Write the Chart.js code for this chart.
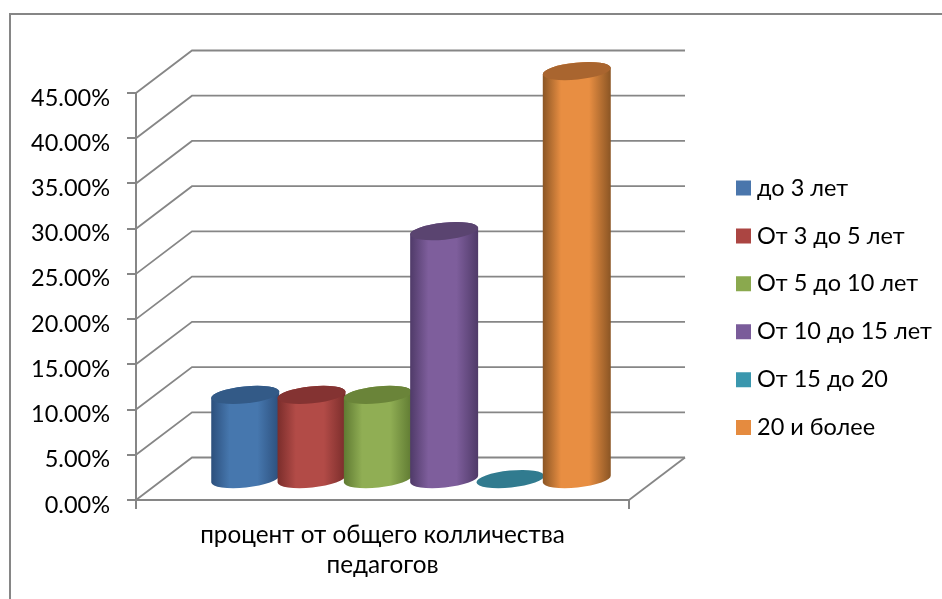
<!DOCTYPE html>
<html><head><meta charset="utf-8">
<script src="https://cdn.jsdelivr.net/npm/chart.js@4"></script>
<style>
html,body{margin:0;padding:0;width:942px;height:599px;background:#fff;overflow:hidden}
#frame{position:absolute;left:9px;top:13px;width:1000px;height:700px;border:2px solid #868686;box-sizing:border-box}
#wrap{position:absolute;left:0;top:0;width:942px;height:599px}
canvas{display:block}
</style></head><body>
<div id="frame"></div>
<div id="wrap"><canvas id="c" width="942" height="599"></canvas></div>
<script>
const categories = [["процент от общего колличества", "педагогов"]];
const seriesNames = ["до 3 лет", "От 3 до 5 лет", "От 5 до 10 лет", "От 10 до 15 лет", "От 15 до 20", "20 и более"];
const seriesValues = [9.3, 9.3, 9.3, 27.4, 0, 45.1];
const legendColors = ["#4a76ac", "#ab4542", "#8aa94e", "#7a5c9a", "#3a97ae", "#e58b3f"];
const sideDark = ["#2c4f7c", "#7a2d2b", "#5f7a32", "#4f3a68", "#24697c", "#8a5524"];
const sideMid = ["#4677ae", "#b24b47", "#90ae54", "#7e5e9c", "#3f9db5", "#e88e42"];
const capColors = ["#335a87", "#843332", "#6a8439", "#5a4470", "#317b8f", "#a9652f"];
const yTicks = [0, 45, 5];

const GRID = "#868686", DX = 56, DY = -42.5, SHIFT = 28.5, RY = 8.5, ROT = -0.1;

function drawCylinder(ctx, el, i) {
  const {x, y, base, width} = el.getProps(["x", "y", "base", "width"], true);
  const cx = x + SHIFT, rx = width / 2 + 1;
  ctx.save();
  if (base - y > 0.5) {
    const g = ctx.createLinearGradient(cx - rx, 0, cx + rx, 0);
    g.addColorStop(0, sideDark[i]);
    g.addColorStop(0.27, sideMid[i]);
    g.addColorStop(0.68, sideMid[i]);
    g.addColorStop(1, sideDark[i]);
    ctx.fillStyle = g;
    ctx.beginPath();
    ctx.ellipse(cx, base, rx, RY, ROT, 0, Math.PI);
    ctx.ellipse(cx, y, rx, RY, ROT, Math.PI, Math.PI * 2);
    ctx.closePath();
    ctx.fill();
  }
  ctx.fillStyle = capColors[i];
  ctx.beginPath();
  ctx.ellipse(cx, y, rx, RY, ROT, 0, Math.PI * 2);
  ctx.fill();
  ctx.restore();
}

const cylinders = {
  id: "cylinders",
  beforeDatasetsDraw(chart) {
    const {ctx, scales: {x, y}} = chart;
    const b = y.bottom;
    ctx.save();
    ctx.strokeStyle = GRID;
    ctx.lineWidth = 1.8;
    y.ticks.forEach(t => {
      const py = y.getPixelForValue(t.value);
      ctx.beginPath();
      ctx.moveTo(x.left, py);
      ctx.lineTo(x.left + DX, py + DY);
      ctx.lineTo(x.right + DX, py + DY);
      ctx.stroke();
    });
    ctx.beginPath();
    ctx.moveTo(x.right + DX, b + DY);
    ctx.lineTo(x.right, b);
    ctx.stroke();
    ctx.restore();
    seriesNames.forEach((_, i) => {
      chart.getDatasetMeta(i).data.forEach(el => drawCylinder(ctx, el, i));
    });
  },
  beforeDatasetDraw() {
    return false;
  },
  afterLayout(chart) {
    const lg = chart.legend;
    lg.left = 741.75 - lg.options.labels.padding;
    lg.top = 41 - lg.options.labels.padding;
  }
};

const datasets = seriesNames.map((name, i) => ({
  label: name,
  data: [seriesValues[i]],
  backgroundColor: legendColors[i],
  borderColor: legendColors[i],
  borderWidth: 11.5,
  yAxisID: "y2",
  clip: false
}));

new Chart(document.getElementById("c"), {
  type: "bar",
  data: {labels: categories, datasets},
  plugins: [cylinders],
  options: {
    responsive: false,
    animation: false,
    devicePixelRatio: 1,
    layout: {padding: {top: 93, left: 0, right: 0, bottom: 0}},
    categoryPercentage: 0.807,
    barPercentage: 1,
    plugins: {
      tooltip: {enabled: false},
      legend: {
        position: "right",
        labels: {boxWidth: 3.5, boxHeight: 3.5, padding: 24.4, color: "#000",
                 font: {family: "Lato", size: 23.5}}
      }
    },
    scales: {
      x: {
        offset: true,
        grid: {drawOnChartArea: false, color: GRID, lineWidth: 2, tickLength: 9, offset: true},
        border: {color: GRID, width: 2},
        ticks: {color: "#000", maxRotation: 0, autoSkip: false, padding: 11,
                font: {family: "Lato", size: 24.3, lineHeight: 1.24}},
        afterFit(s) { s.height = 99; }
      },
      y: {
        min: yTicks[0], max: yTicks[1],
        grid: {drawOnChartArea: false, color: GRID, lineWidth: 2, tickLength: 9},
        border: {color: GRID, width: 2},
        ticks: {stepSize: yTicks[2], color: "#000", padding: 17, labelOffset: 5,
                font: {family: "Lato", size: 23.5},
                callback: v => v.toFixed(2) + "%"},
        afterFit(s) { s.width = 136; }
      },
      y2: {
        position: "right",
        min: -2.32, max: 42.68,
        grid: {display: false},
        border: {display: false},
        ticks: {display: false},
        afterFit(s) { s.width = 942 - 629 - s.chart.legend.width; }
      }
    }
  }
});
</script>
</body></html>
